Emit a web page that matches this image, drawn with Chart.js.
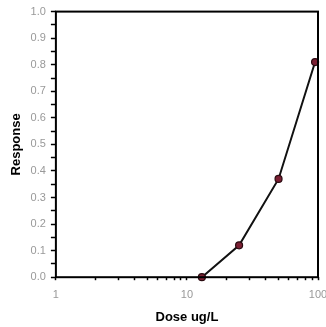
<!DOCTYPE html>
<html>
<head>
<meta charset="utf-8">
<script src="https://cdn.jsdelivr.net/npm/chart.js@4/dist/chart.umd.min.js"></script>
<style>
  html, body { margin: 0; padding: 0; background: #fff; }
  #wrap { width: 326px; height: 327px; }
</style>
</head>
<body>
<div id="wrap"><canvas id="c" width="326" height="327"></canvas></div>
<script>
// Dose-response measurements
const doses = [13, 25, 50, 95];
const responses = [0.0, 0.12, 0.37, 0.81];

// Axis ticks: log decades with minor ticks, response in 0.05 steps
const xTicks = [1, 2, 3, 4, 5, 6, 7, 8, 9, 10, 20, 30, 40, 50, 60, 70, 80, 90, 100];
const xLabels = [1, 10, 100];
const yTicks = [0, 0.05, 0.1, 0.15, 0.2, 0.25, 0.3, 0.35, 0.4, 0.45, 0.5, 0.55, 0.6, 0.65, 0.7, 0.75, 0.8, 0.85, 0.9, 0.95, 1.0];

const points = doses.map((d, i) => ({ x: d, y: responses[i] }));

// Frame around the whole plot area
const framePlugin = {
  id: 'frame',
  afterDatasetsDraw(chart) {
    const { ctx, chartArea: a } = chart;
    ctx.save();
    ctx.strokeStyle = '#000';
    ctx.lineWidth = 2;
    ctx.strokeRect(a.left, a.top, a.right - a.left, a.bottom - a.top);
    ctx.restore();
  }
};

new Chart(document.getElementById('c'), {
  type: 'scatter',
  data: {
    datasets: [{
      data: points,
      showLine: true,
      borderColor: '#111',
      borderWidth: 2,
      pointStyle: 'circle',
      pointRadius: 3.5,
      pointBackgroundColor: '#7a1f33',
      pointBorderColor: '#2a0a10',
      pointBorderWidth: 1.2,
      clip: false
    }]
  },
  options: {
    responsive: false,
    animation: false,
    devicePixelRatio: 1,
    layout: { padding: { top: 11, right: 0, left: 9, bottom: 2 } },
    plugins: { legend: { display: false }, tooltip: { enabled: false } },
    scales: {
      x: {
        type: 'logarithmic',
        min: 1,
        max: 100,
        afterBuildTicks(scale) { scale.ticks = xTicks.map(v => ({ value: v })); },
        // let the last label run to the canvas edge
        afterFit(scale) { scale.paddingRight = 8; },
        ticks: {
          autoSkip: false,
          maxRotation: 0,
          color: '#999',
          font: { family: 'Liberation Sans, Arial, sans-serif', size: 11 },
          padding: 8,
          callback: (v) => xLabels.includes(v) ? String(v) : ''
        },
        grid: { drawOnChartArea: false, drawTicks: true, tickLength: 3, color: '#000', tickWidth: 1.5 },
        border: { display: false },
        title: {
          display: true,
          text: 'Dose ug/L',
          color: '#000',
          font: { family: 'Liberation Sans, Arial, sans-serif', size: 13, weight: 'bold' },
          padding: { top: 0, bottom: 0 }
        }
      },
      y: {
        type: 'linear',
        min: 0,
        max: 1,
        afterBuildTicks(scale) { scale.ticks = yTicks.map(v => ({ value: v })); },
        ticks: {
          autoSkip: false,
          color: '#999',
          font: { family: 'Liberation Sans, Arial, sans-serif', size: 11 },
          padding: 5,
          callback: (v) => (Math.round(v * 100) % 10 === 0) ? v.toFixed(1) : ''
        },
        grid: { drawOnChartArea: false, drawTicks: true, tickLength: 5, color: '#000', tickWidth: 1.5 },
        border: { display: false },
        title: {
          display: true,
          text: 'Response',
          color: '#000',
          font: { family: 'Liberation Sans, Arial, sans-serif', size: 13, weight: 'bold' },
          padding: { top: 0, bottom: 1 }
        }
      }
    }
  },
  plugins: [framePlugin]
});
</script>
</body>
</html>
